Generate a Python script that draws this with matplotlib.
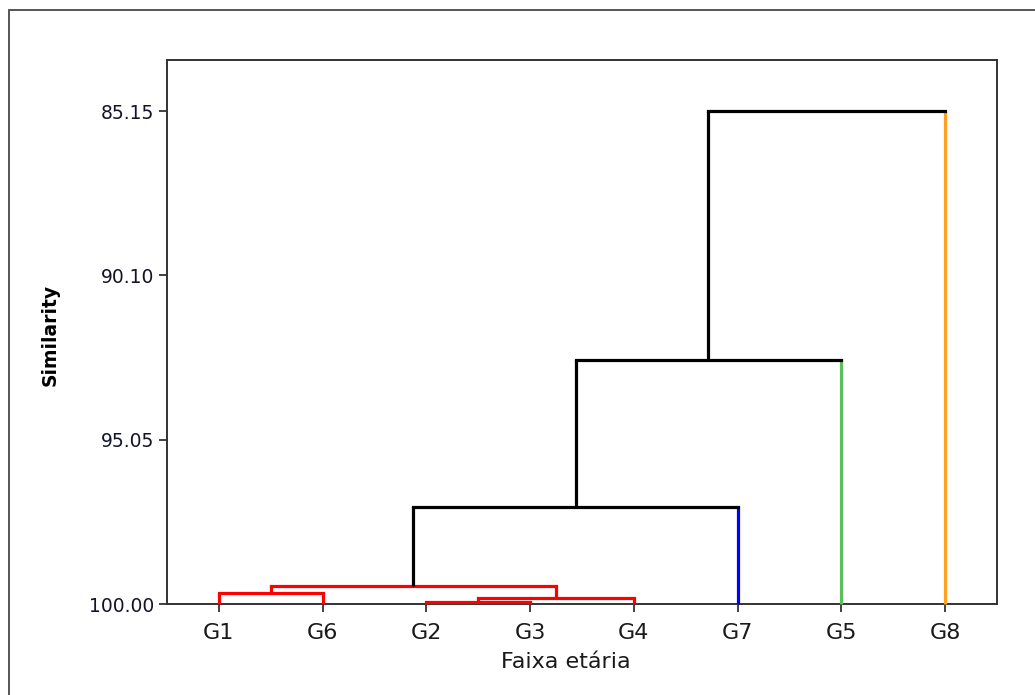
import matplotlib
matplotlib.use("Agg")
import matplotlib.pyplot as plt
from matplotlib.patches import Rectangle

# ---- data ----
leaves = ["G1", "G6", "G2", "G3", "G4", "G7", "G5", "G8"]
leaf_colors = ["#ff0000", "#ff0000", "#ff0000", "#ff0000", "#ff0000",
               "#0000ff", "#5cbf5c", "#ffa020"]
# merges: C1..C7 (children, similarity at join)
link_a = ["G1", "G2", "C2", "C1", "C4", "C5", "C6"]
link_b = ["G6", "G3", "G4", "C3", "G7", "G5", "G8"]
link_sim = [99.67, 99.94, 99.83, 99.45, 97.08, 92.65, 85.15]
ytick_vals = [85.15, 90.10, 95.05, 100.00]
ytick_labels = ["85.15", "90.10", "95.05", "100.00"]

W, H = 1035, 695
fig = plt.figure(figsize=(W / 100, H / 100), dpi=100)
ax = fig.add_axes([167 / W, 1 - 604 / H, (997 - 167) / W, (604 - 60) / H])

# node positions / heights / colors
pos = {name: i for i, name in enumerate(leaves)}
hgt = {name: 100.0 for name in leaves}
col = {name: c for name, c in zip(leaves, leaf_colors)}

lw = 2.3
for k, (a, b, s) in enumerate(zip(link_a, link_b, link_sim)):
    name = f"C{k + 1}"
    xa, xb = pos[a], pos[b]
    c = col[a] if col[a] == col[b] else "black"
    ca = col[a] if a in leaves else c
    cb = col[b] if b in leaves else c
    ax.plot([xa, xa], [hgt[a], s], color=ca, lw=lw, clip_on=False,
            solid_capstyle="butt", zorder=3)
    ax.plot([xb, xb], [hgt[b], s], color=cb, lw=lw, clip_on=False,
            solid_capstyle="butt", zorder=3)
    ax.plot([xa, xb], [s, s], color=c, lw=lw, clip_on=False,
            solid_capstyle="projecting", zorder=3)
    pos[name] = (xa + xb) / 2
    hgt[name] = s
    col[name] = c

ax.set_xlim(-0.5, 7.5)
ax.set_ylim(100.0, 83.61)
ax.set_xticks(range(len(leaves)))
ax.set_xticklabels(leaves, fontsize=16, color="#1a1a1a")
ax.set_yticks(ytick_vals)
ax.set_yticklabels(ytick_labels, fontsize=13.5, color="#141428")
ax.tick_params(axis="both", direction="out", length=6, width=1.3, color="#333333")
ax.tick_params(axis="x", pad=8)
ax.tick_params(axis="y", pad=3)
for sp in ax.spines.values():
    sp.set_color("#333333")
    sp.set_linewidth(1.4)

fig.text(566 / W, 1 - 662 / H, "Faixa etária", fontsize=16, color="#1a1a1a",
         ha="center", va="center")
fig.text(50 / W, 1 - 335 / H, "Similarity", fontsize=13.5, fontweight="bold",
         rotation=90, ha="center", va="center", color="black")

# outer frame (left & top visible)
fig.patches.append(Rectangle((9 / W, -0.05), 1.2, 1 - 10 / H + 0.05,
                             transform=fig.transFigure, fill=False,
                             edgecolor="#555555", lw=1.4))

fig.savefig("out.png", dpi=100)
